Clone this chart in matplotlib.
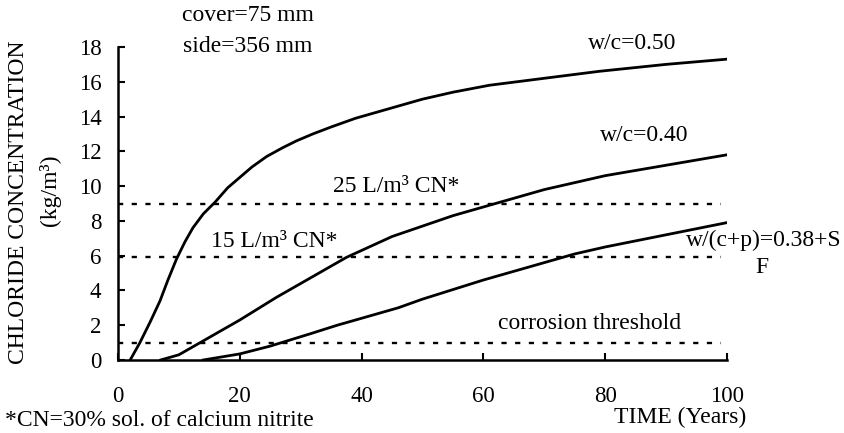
import matplotlib.pyplot as plt

plt.rcParams['font.family'] = ['Liberation Serif', 'DejaVu Serif']

# Chloride build-up curves
years_50 = [2, 3.6, 5.3, 6.9, 8.2, 9.6, 11, 12.3, 14, 16, 18, 20, 22, 24.4, 27, 29.3,
            32, 35, 39, 42, 46, 50, 55, 61, 70, 79, 90, 100]
cl_50 = [0, 1, 2.2, 3.4, 4.6, 5.8, 6.8, 7.6, 8.4, 9.1, 9.9, 10.5, 11.1, 11.7, 12.2, 12.6,
         13.0, 13.4, 13.9, 14.2, 14.6, 15.0, 15.4, 15.8, 16.2, 16.6, 17.0, 17.3]

years_40 = [7, 10, 15, 20, 26, 31.5, 37.5, 40, 45, 50, 55, 60, 63, 70, 80, 90, 100]
cl_40 = [0, 0.3, 1.3, 2.3, 3.6, 4.7, 5.9, 6.3, 7.1, 7.7, 8.3, 8.8, 9.1, 9.8, 10.6, 11.2, 11.8]

years_sf = [14, 20, 25, 31.5, 36, 40, 46, 50, 60, 70, 75, 80, 90, 100]
cl_sf = [0, 0.35, 0.8, 1.5, 2.0, 2.4, 3.0, 3.5, 4.6, 5.6, 6.1, 6.5, 7.2, 7.9]

# Horizontal reference levels (kg/m3)
thresholds = [8.95, 5.9, 1.0]
threshold_end = 99

fig = plt.figure(figsize=(8.44, 4.33), dpi=100)
ax = fig.add_axes([0.1398, 0.1686, 0.7216, 0.7229])

for level in thresholds:
    ax.plot([0, threshold_end], [level, level], color='black', lw=1.7,
            linestyle=(0, (2.2, 3.6)))

for x, y in [(years_50, cl_50), (years_40, cl_40), (years_sf, cl_sf)]:
    ax.plot(x, y, color='black', lw=2.0)

ax.set_xlim(0, 100)
ax.set_ylim(0, 18)
ax.set_xticks([0, 20, 40, 60, 80, 100])
ax.set_yticks(range(0, 19, 2))
ax.spines['top'].set_visible(False)
ax.spines['right'].set_visible(False)
for s in ['left', 'bottom']:
    ax.spines[s].set_linewidth(1.8)
ax.tick_params(direction='in', length=5, width=1.5, labelsize=16.5)
ax.tick_params(axis='y', pad=12)
ax.tick_params(axis='x', pad=19)

fs = 17
# Annotations
ax.text(21.3, 19.8, 'cover=75 mm', ha='center', va='center', fontsize=fs, clip_on=False)
ax.text(21.3, 18.0, 'side=356 mm', ha='center', va='center', fontsize=fs, clip_on=False)
ax.text(84.4, 18.2, 'w/c=0.50', ha='center', va='center', fontsize=fs)
ax.text(86.4, 12.9, 'w/c=0.40', ha='center', va='center', fontsize=fs)
ax.text(45.6, 10.0, '25 L/m³ CN*', ha='center', va='center', fontsize=fs)
ax.text(25.7, 6.8, '15 L/m³ CN*', ha='center', va='center', fontsize=fs)
ax.text(93.3, 6.9, 'w/(c+p)=0.38+S', ha='left', va='center', fontsize=fs, clip_on=False)
ax.text(105.8, 5.3, 'F', ha='center', va='center', fontsize=fs, clip_on=False)
ax.text(77.4, 2.1, 'corrosion threshold', ha='center', va='center', fontsize=fs)

fig.text(680 / 844, 1 - 417 / 433, 'TIME (Years)', ha='center', va='center', fontsize=fs)
fig.text(5 / 844, 1 - 420 / 433, '*CN=30% sol. of calcium nitrite', ha='left', va='center', fontsize=fs)
fig.text(19 / 844, 1 - 202 / 433, 'CHLORIDE CONCENTRATION', rotation=90,
         ha='center', va='center', fontsize=fs)
fig.text(50 / 844, 1 - 190 / 433, '(kg/m³)', rotation=90, ha='center', va='center', fontsize=fs)

fig.savefig('out.png', dpi=100)
